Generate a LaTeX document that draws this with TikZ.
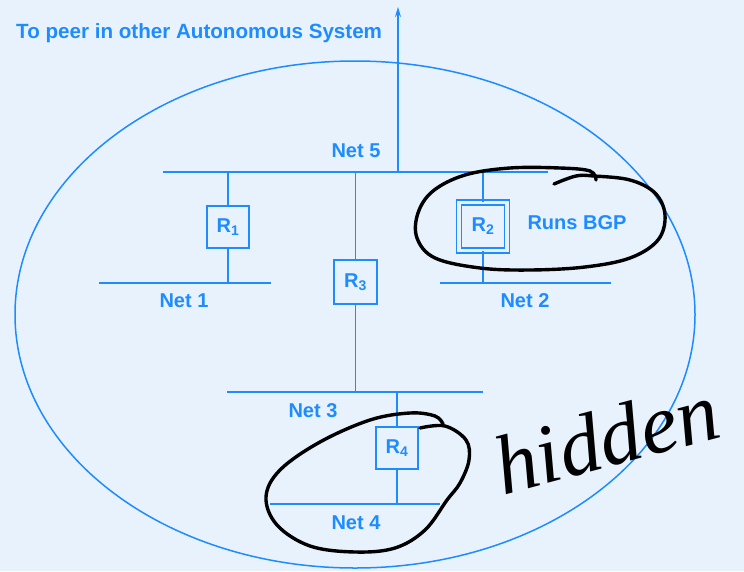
\documentclass[tikz,border=0pt]{standalone}
\usepackage{fontspec}
\setmainfont{Liberation Sans}
\newfontfamily\handfont{Liberation Serif}
\usetikzlibrary{arrows.meta}
\definecolor{bg}{RGB}{232,242,253}
\definecolor{ln}{RGB}{30,140,255}
\newcommand\lblfont{\fontsize{20}{23}\selectfont\bfseries}
\tikzset{
  netline/.style={line width=2.6pt, draw=ln},
  wire/.style={line width=1.5pt, draw=ln},
  router/.style={draw=ln, line width=1.5pt, minimum width=42pt, minimum height=42pt, inner sep=0pt, font=\lblfont, text=ln},
  bgprouter/.style={router, minimum width=48pt, minimum height=48pt, double=bg, double distance=3.5pt},
  lbl/.style={font=\lblfont, text=ln, inner sep=0pt},
  marker/.style={draw=black, line width=3.4pt, line cap=round, line join=round}
}
\begin{document}
\begin{tikzpicture}[x=1pt,y=-1pt]
\useasboundingbox (0,0) rectangle (744,571);
\fill[bg] (0,0) rectangle (744,571);
% autonomous system boundary
\draw[ln, line width=1.5pt] (355,314.5) ellipse [x radius=340pt, y radius=253.5pt];
% nets
\coordinate (n5a) at (163,172); \coordinate (n5b) at (548,172);
\coordinate (n1a) at (99,283);  \coordinate (n1b) at (271,283);
\coordinate (n2a) at (440,283); \coordinate (n2b) at (611,283);
\coordinate (n3a) at (227,392); \coordinate (n3b) at (483,392);
\coordinate (n4a) at (270,504); \coordinate (n4b) at (440,504);
\draw[netline] (n5a) -- (n5b);
\draw[netline] (n1a) -- (n1b);
\draw[netline] (n2a) -- (n2b);
\draw[netline] (n3a) -- (n3b);
\draw[netline] (n4a) -- (n4b);
% routers
\node[router] (r1) at (228,227) {R\textsubscript{1}};
\node[router, minimum height=44pt, minimum width=43pt] (r3) at (355.5,282) {R\textsubscript{3}};
\node[router] (r4) at (397,448) {R\textsubscript{4}};
\node[bgprouter] (r2) at (483,226.5) {R\textsubscript{2}};
% connectors
\draw[wire] (r1) -- (r1 |- n5a);
\draw[wire] (r1) -- (r1 |- n1a);
\draw[wire] (r3) -- (r3 |- n5a);
\draw[wire] (r3) -- (r3 |- n3a);
\draw[wire] (r2) -- (r2 |- n5a);
\draw[wire] (r2) -- (r2 |- n2a);
\draw[wire] (r4) -- (r4 |- n3a);
\draw[wire] (r4) -- (r4 |- n4a);
% link to peer
\coordinate (peer) at (398,7);
\draw[wire, -{Stealth[length=10pt, width=6pt]}] (peer |- n5a) -- (peer);
% labels
\node[lbl, anchor=west, font=\fontsize{20.6}{23}\selectfont\bfseries] (title) at (16,33) {To peer in other Autonomous System};
\node[lbl] (l5) at (356,151) {Net 5};
\node[lbl] (l1) at (184,301) {Net 1};
\node[lbl] (l2) at (525,301) {Net 2};
\node[lbl] (l3) at (313,411) {Net 3};
\node[lbl] (l4) at (356,523) {Net 4};
\node[lbl] (bgp) at (577,223) {Runs BGP};
% handwritten annotations
\draw[marker] plot[smooth, tension=0.6] coordinates {(554,184) (576,176) (594,176) (630,180) (655,193) (665,215) (658,240) (630,258) (585,267) (530,270) (480,268) (435,258) (417,238) (418,213) (433,191) (465,175) (510,168) (560,168) (590,171) (596,180)};
\draw[marker] plot[smooth, tension=0.6] coordinates {(420,428) (445,426) (466,440) (469,460) (460,483) (447,500) (425,530) (395,548) (355,552) (310,546) (277,525) (266,497) (280,470) (320,442) (370,420) (410,413) (435,416) (443,424)};
\node[text=black, rotate=15, inner sep=0pt] (hidden) at (606,438) {\fontsize{84}{84}\selectfont\handfont\itshape hidden};
\end{tikzpicture}
\end{document}
